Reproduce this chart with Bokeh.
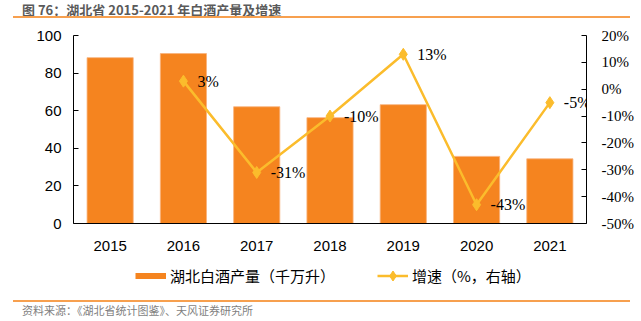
from bokeh.plotting import figure
from bokeh.layouts import column
from bokeh.models import (Range1d, LinearAxis, FixedTicker, PrintfTickFormatter,
                          ColumnDataSource, LabelSet, Legend, LegendItem, Div)
from bokeh.embed import file_html
from bokeh.resources import INLINE

# ---- data ----
years = ["2015", "2016", "2017", "2018", "2019", "2020", "2021"]
production = [88.2, 90.4, 62.1, 56.3, 63.2, 35.7, 34.4]   # 千万升
growth_years = ["2016", "2017", "2018", "2019", "2020", "2021"]
growth = [3, -31, -10, 13, -43, -5]                        # %
left_ticks = [0, 20, 40, 60, 80, 100]
right_ticks = [-50, -40, -30, -20, -10, 0, 10, 20]

title_text = "图 76：湖北省 2015-2021 年白酒产量及增速"
source_text = "资料来源：《湖北省统计图鉴》、天风证券研究所"
bar_label = "湖北白酒产量（千万升）"
line_label = "增速（%，右轴）"

W = 641
TOP_H, MAIN_H, LEG_H, BOT_H = 21, 237, 35, 28
FL, FR = 73, 586           # frame left/right (px)
FT, FB = 14, 202           # frame top/bottom inside main figure (px)

BAR = "#F5841F"
LINE = "#FBBC2C"
RULE = "#F7A04F"
SANS = "Liberation Sans"
CJK = "Noto Sans CJK SC"

# ---- top: title + rule ----
top = Div(width=W, height=TOP_H, margin=0, text=(
    f'<div style="position:relative;width:{W}px;height:{TOP_H}px;overflow:visible;">'
    f'<div style="position:absolute;left:22px;top:0px;line-height:19px;white-space:nowrap;'
    f'font-family:\'{CJK}\';font-size:13px;font-weight:bold;color:#5A5A5A;">{title_text}</div>'
    f'<div style="position:absolute;left:13px;top:16px;width:617px;height:1.5px;'
    f'background:{RULE};"></div></div>'))

# ---- main chart ----
p = figure(x_range=years, y_range=Range1d(0, 100), width=W, height=MAIN_H,
           output_backend="svg", toolbar_location=None,
           min_border_left=FL, min_border_right=W - FR,
           min_border_top=FT, min_border_bottom=MAIN_H - FB)
p.outline_line_color = None
p.xgrid.visible = False
p.ygrid.visible = False
p.extra_y_ranges = {"g": Range1d(-50, 20)}

ya = p.yaxis[0]
ya.ticker = FixedTicker(ticks=left_ticks)
ya.major_tick_in = 5
ya.major_tick_out = 0
ya.minor_tick_line_color = None
ya.axis_line_color = "black"
ya.major_tick_line_color = "black"
ya.major_label_text_font = SANS
ya.major_label_text_font_size = "15px"
ya.major_label_text_color = "black"
ya.major_label_standoff = 12

xa = p.xaxis[0]
xa.major_tick_line_color = None
xa.minor_tick_line_color = None
xa.axis_line_color = "black"
xa.major_label_text_font = SANS
xa.major_label_text_font_size = "15px"
xa.major_label_text_color = "black"
xa.major_label_standoff = 11

ra = LinearAxis(y_range_name="g", ticker=FixedTicker(ticks=right_ticks),
                formatter=PrintfTickFormatter(format="%d%%"))
ra.major_tick_in = 5
ra.major_tick_out = 0
ra.minor_tick_line_color = None
ra.axis_line_color = "black"
ra.major_tick_line_color = "black"
ra.major_label_text_font = "Liberation Serif"
ra.major_label_text_font_size = "15px"
ra.major_label_text_color = "black"
ra.major_label_standoff = 15
p.add_layout(ra, "right")

bars = p.vbar(x=years, top=production, width=0.63, fill_color=BAR,
              line_color="#F9B27C", line_width=0.8)

gsrc = ColumnDataSource(dict(x=growth_years, y=growth,
                             t=[f"{g:.0f}%" for g in growth]))
ln = p.line("x", "y", source=gsrc, y_range_name="g", line_color=LINE, line_width=2.5)
mk = p.scatter("x", "y", source=gsrc, y_range_name="g", marker="diamond",
               size=12, fill_color=LINE, line_color=LINE)
p.add_layout(LabelSet(x="x", y="y", text="t", source=gsrc, y_range_name="g",
                      x_offset=14, y_offset=0, text_baseline="middle",
                      text_font=SANS, text_font_size="16px", text_color="black"))

# ---- legend strip ----
leg = figure(width=W, height=LEG_H, x_range=Range1d(0, 10), y_range=Range1d(0, 10),
             output_backend="svg", toolbar_location=None,
             x_axis_location=None, y_axis_location=None, min_border=0)
leg.outline_line_color = None
leg.xgrid.visible = False
leg.ygrid.visible = False
# off-range swatch renderers (only their legend glyphs are visible)
sw_bar = leg.line(x=[-99, -98], y=[-99, -99], line_color=BAR, line_width=6)
sw_ln = leg.line(x=[-99, -98], y=[-99, -99], line_color=LINE, line_width=2.5)
sw_mk = leg.scatter(x=[-99], y=[-99], marker="diamond", size=12,
                    fill_color=LINE, line_color=LINE)
legend = Legend(items=[LegendItem(label=bar_label, renderers=[sw_bar]),
                       LegendItem(label=line_label, renderers=[sw_ln, sw_mk])],
                location=(135 - FL, 5.5), orientation="horizontal",
                glyph_width=31, glyph_height=25, label_standoff=4, spacing=42,
                label_text_font=CJK, label_text_font_size="15px", label_text_color="black",
                padding=0, margin=0, border_line_color=None, background_fill_alpha=0)
leg.add_layout(legend)

# ---- bottom: rule + source ----
bot = Div(width=W, height=BOT_H, margin=0, text=(
    f'<div style="position:relative;width:{W}px;height:{BOT_H}px;">'
    f'<div style="position:absolute;left:13px;top:7px;width:617px;height:1.5px;'
    f'background:{RULE};"></div>'
    f'<div style="position:absolute;left:22px;top:10px;line-height:14px;white-space:nowrap;'
    f'font-family:\'{CJK}\';font-size:11px;color:#7F7F7F;">{source_text}</div></div>'))

page = column(top, p, leg, bot, spacing=0)
open("out.html", "w").write(file_html(page, INLINE))
